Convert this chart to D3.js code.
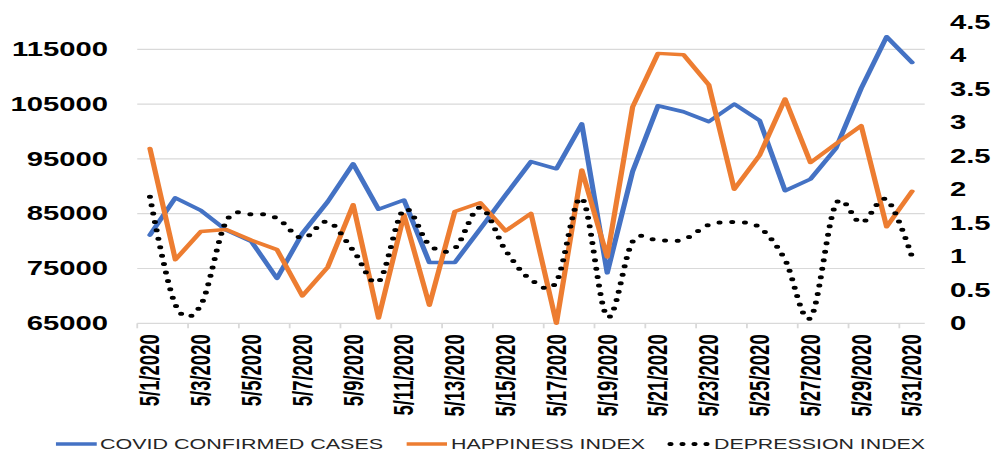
<!DOCTYPE html>
<html>
<head>
<meta charset="utf-8">
<script src="https://cdn.jsdelivr.net/npm/d3@7"></script>
<style>
  html, body { margin: 0; padding: 0; background: #fff; }
  svg { display: block; }
  text { font-family: "Liberation Sans", Arial, sans-serif; }
</style>
</head>
<body>
<svg id="chart" width="997" height="454"></svg>
<script>
// Daily categories for May 2020
const dates = ["5/1/2020","5/2/2020","5/3/2020","5/4/2020","5/5/2020","5/6/2020","5/7/2020","5/8/2020",
  "5/9/2020","5/10/2020","5/11/2020","5/12/2020","5/13/2020","5/14/2020","5/15/2020","5/16/2020",
  "5/17/2020","5/18/2020","5/19/2020","5/20/2020","5/21/2020","5/22/2020","5/23/2020","5/24/2020",
  "5/25/2020","5/26/2020","5/27/2020","5/28/2020","5/29/2020","5/30/2020","5/31/2020"];

// Left axis series
const covidCases = [81100, 87900, 85600, 82000, 79900, 73200, 81400, 87200, 94100, 85800, 87500,
  76100, 76100, 82200, 88400, 94500, 93200, 101400, 74200, 92700, 104700, 103600, 101800, 105000,
  102000, 89200, 91300, 96900, 107900, 117300, 112600];

// Right axis series
const happinessIndex = [2.61, 0.95, 1.37, 1.40, 1.24, 1.10, 0.41, 0.84, 1.77, 0.08, 1.62, 0.27, 1.67,
  1.80, 1.38, 1.64, 0.0, 2.29, 0.99, 3.23, 4.03, 4.01, 3.56, 2.00, 2.51, 3.35, 2.40, 2.68, 2.95, 1.44, 1.97];

const depressionIndex = [1.89, 0.28, 0.27, 1.52, 1.63, 1.57, 1.27, 1.52, 1.09, 0.62, 1.70, 1.17, 1.12,
  1.73, 1.09, 0.65, 0.62, 1.87, 0.10, 1.22, 1.24, 1.25, 1.47, 1.51, 1.43, 0.95, 0.08, 1.78, 1.50, 1.85, 0.99];

const leftTicks = [65000, 75000, 85000, 95000, 105000, 115000];
const rightTicks = [0, 0.5, 1, 1.5, 2, 2.5, 3, 3.5, 4, 4.5];

const seriesNames = ["COVID CONFIRMED CASES", "HAPPINESS INDEX", "DEPRESSION INDEX"];

// The drawing is laid out in a narrower coordinate space and stretched to the full width.
const W = 664.667, H = 454;
const svg = d3.select("#chart")
  .attr("viewBox", `0 0 ${W} ${H}`)
  .attr("preserveAspectRatio", "none");

const plot = { left: 91.5, right: 616.5, top: 21.9, bottom: 323.3 };

const x = d3.scaleBand().domain(dates).range([plot.left, plot.right]).paddingInner(0).paddingOuter(0);
const cx = d => x(d) + x.bandwidth() / 2;
const yL = d3.scaleLinear().domain([65000, 120000]).range([plot.bottom, plot.top]);
const yR = d3.scaleLinear().domain([0, 4.5]).range([plot.bottom, plot.top]);

// Gridlines
svg.append("g").selectAll("line").data(leftTicks.slice(1)).join("line")
  .attr("x1", plot.left).attr("x2", plot.right)
  .attr("y1", d => yL(d)).attr("y2", d => yL(d))
  .attr("stroke", "#d9d9d9").attr("stroke-width", 1.2);

// Left axis
const axL = svg.append("g").attr("transform", `translate(${plot.left - 19.5},0)`)
  .call(d3.axisLeft(yL).tickValues(leftTicks).tickSize(0).tickPadding(0).tickFormat(d3.format("d")));
axL.select(".domain").remove();
axL.selectAll("text").attr("font-size", 19.5).attr("font-weight", "bold").attr("fill", "#000")
  .attr("font-family", "Liberation Sans, Arial, sans-serif");

// Right axis
const axR = svg.append("g").attr("transform", `translate(${plot.right + 16.8},0)`)
  .call(d3.axisRight(yR).tickValues(rightTicks).tickSize(0).tickPadding(0).tickFormat(d => String(d)));
axR.select(".domain").remove();
axR.selectAll("text").attr("font-size", 19.5).attr("font-weight", "bold").attr("fill", "#000")
  .attr("font-family", "Liberation Sans, Arial, sans-serif");

// Category axis: line, tick marks every two days, rotated labels
svg.append("line")
  .attr("x1", plot.left).attr("x2", plot.right)
  .attr("y1", plot.bottom).attr("y2", plot.bottom)
  .attr("stroke", "#d9d9d9").attr("stroke-width", 1.2);
svg.append("g").selectAll("line").data(dates.filter((d, i) => i % 2 === 0)).join("line")
  .attr("x1", d => x(d)).attr("x2", d => x(d))
  .attr("y1", plot.bottom).attr("y2", plot.bottom + 5)
  .attr("stroke", "#d9d9d9").attr("stroke-width", 1.2);
svg.append("g").selectAll("text").data(dates.filter((d, i) => i % 2 === 0)).join("text")
  .attr("transform", d => `translate(${cx(d) + 6.3},${plot.bottom + 11}) rotate(-90)`)
  .attr("text-anchor", "end")
  .attr("font-size", 18.5).attr("font-weight", "bold").attr("fill", "#000")
  .text(d => d);

// Series lines
const lineL = d3.line().x((d, i) => cx(dates[i])).y(d => yL(d));
const lineR = d3.line().x((d, i) => cx(dates[i])).y(d => yR(d));
const smoothR = d3.line().x((d, i) => cx(dates[i])).y(d => yR(d)).curve(d3.curveCardinal.tension(0));

svg.append("path").datum(covidCases).attr("d", lineL)
  .attr("fill", "none").attr("stroke", "#4472C4").attr("stroke-width", 3.5)
  .attr("stroke-linejoin", "round").attr("stroke-linecap", "round");
svg.append("path").datum(happinessIndex).attr("d", lineR)
  .attr("fill", "none").attr("stroke", "#ED7D31").attr("stroke-width", 3.5)
  .attr("stroke-linejoin", "round").attr("stroke-linecap", "round");
svg.append("path").datum(depressionIndex).attr("d", smoothR)
  .attr("fill", "none").attr("stroke", "#000").attr("stroke-width", 4)
  .attr("stroke-dasharray", "0 8.5").attr("stroke-linecap", "round");

// Legend
const legend = [
  { name: seriesNames[0], color: "#4472C4", dash: null, x1: 37.3, x2: 64.5, tx: 66.7, tl: 188.7 },
  { name: seriesNames[1], color: "#ED7D31", dash: null, x1: 271.1, x2: 298, tx: 300.7, tl: 129.3 },
  { name: seriesNames[2], color: "#000", dash: "0 8", x1: 447, x2: 473, tx: 476, tl: 140.7 }
];
const lg = svg.append("g").selectAll("g").data(legend).join("g");
lg.append("line")
  .attr("x1", d => d.x1).attr("x2", d => d.x2).attr("y1", 444).attr("y2", 444)
  .attr("stroke", d => d.color).attr("stroke-width", d => d.dash ? 4 : 3.5)
  .attr("stroke-dasharray", d => d.dash).attr("stroke-linecap", d => d.dash ? "round" : "butt");
lg.append("text")
  .attr("x", d => d.tx).attr("y", 449.3)
  .attr("font-size", 14.5).attr("fill", "#262626")
  .attr("textLength", d => d.tl).attr("lengthAdjust", "spacingAndGlyphs")
  .text(d => d.name);
</script>
</body>
</html>
